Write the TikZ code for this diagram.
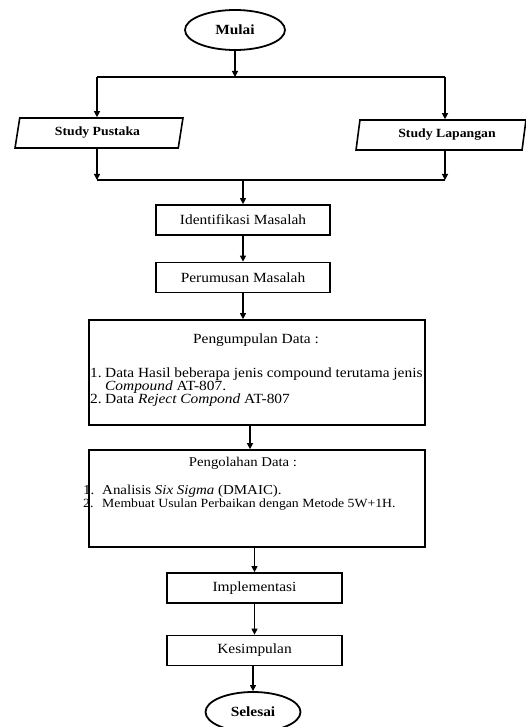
\documentclass[tikz,border=0pt]{standalone}
\usepackage{fontspec}
\setmainfont{Liberation Serif}[FakeStretch=1.1, UprightFont=*, BoldFont=* Bold, ItalicFont=* Italic, BoldItalicFont=* Bold Italic]
\usetikzlibrary{shapes.geometric,arrows.meta}
\begin{document}
\begin{tikzpicture}[x=1pt,y=-1pt,
  every node/.style={font=\fontsize{14}{14}\selectfont},
  term/.style={ellipse, draw, line width=1.8pt, minimum width=100pt, minimum height=40pt, inner sep=0pt, font=\fontsize{14}{14}\selectfont\bfseries},
  io/.style={trapezium, trapezium left angle=77, trapezium right angle=103, trapezium stretches=true, draw, line width=1.6pt, minimum width=168pt, minimum height=30pt, inner sep=0pt, font=\fontsize{12.5}{13}\selectfont\bfseries},
  stepbox/.style={draw, line width=1.7pt, minimum width=174pt, minimum height=30pt, inner sep=0pt},
  bigbox/.style={draw, line width=1.7pt, minimum width=336pt, inner sep=0pt},
  txt/.style={inner sep=0pt},
  small/.style={inner sep=0pt, font=\fontsize{12.5}{12.5}\selectfont},
  arr/.style={line width=1.2pt, -{Triangle[length=6pt,width=6pt]}},
  bar/.style={line width=2.6pt},
]
\useasboundingbox (0,0) rectangle (525,727);

\node[term] (mulai) at (235,30) {Mulai};
\coordinate (tl) at (97,77);
\coordinate (tr) at (445,77);
\coordinate (bl) at (97,180);
\coordinate (br) at (445,180);
\node[io] (pustaka) at (99,133) {Study Pustaka\hspace*{3pt}};
\node[io, minimum width=170pt] (lapangan) at (441,135) {\hspace*{12pt}Study Lapangan};

\node[stepbox] (ident) at (243,220) {Identifikasi Masalah};
\node[stepbox] (rumus) at (243,277.5) {Perumusan Masalah};
\node[bigbox, minimum height=105pt] (kumpul) at (257,372.5) {};
\node[txt, anchor=base] (kumpulT) at (256,343) {Pengumpulan Data :};
\node[txt, anchor=base west] (k1n) at (90,377) {1.};
\node[txt, anchor=base west] (k1) at (105,377) {Data Hasil beberapa jenis compound terutama jenis};
\node[txt, anchor=base west] (k1b) at (105,390) {\textit{Compound} AT-807.};
\node[txt, anchor=base west] (k2n) at (90,403) {2.};
\node[txt, anchor=base west] (k2) at (105,403) {Data \textit{Reject Compond} AT-807};

\node[bigbox, minimum height=97pt] (olah) at (257,498.5) {};
\node[txt, anchor=base, font=\fontsize{13.4}{13.4}\selectfont] (olahT) at (243,466) {Pengolahan Data :};
\node[small, anchor=base west, font=\fontsize{13.6}{13.6}\selectfont] (o1n) at (83,494) {1.};
\node[small, anchor=base west, font=\fontsize{13.6}{13.6}\selectfont] (o1) at (102,494) {Analisis \textit{Six Sigma} (DMAIC).};
\node[small, anchor=base west] (o2n) at (83,507) {2.};
\node[small, anchor=base west] (o2) at (102,507) {Membuat Usulan Perbaikan dengan Metode 5W+1H.};

\node[stepbox, minimum width=175pt] (impl) at (254.5,588) {Implementasi};
\node[stepbox, minimum width=175pt] (simpul) at (254.5,650.5) {Kesimpulan};
\node[term, minimum width=95pt] (selesai) at (253,712) {Selesai};

\draw[arr] (mulai.south) -- (mulai.south |- tl);
\draw[bar] (tl) -- (tr);
\draw[arr] (tl) -- (tl |- pustaka.north);
\draw[arr] (tr) -- (tr |- lapangan.north);
\draw[arr] (pustaka.south -| bl) -- (bl);
\draw[arr] (lapangan.south -| br) -- (br);
\draw[bar] (bl) -- (br);
\draw[arr] (ident.north |- bl) -- (ident.north);
\draw[arr] (ident.south) -- (rumus.north);
\draw[arr] (rumus.south) -- (rumus.south |- kumpul.north);
\draw[arr] (kumpul.south -| 250,0) -- (olah.north -| 250,0);
\draw[arr] (olah.south -| impl.north) -- (impl.north);
\draw[arr] (impl.south) -- (simpul.north);
\draw[arr] (simpul.south -| selesai.north) -- (selesai.north);
\end{tikzpicture}
\end{document}
